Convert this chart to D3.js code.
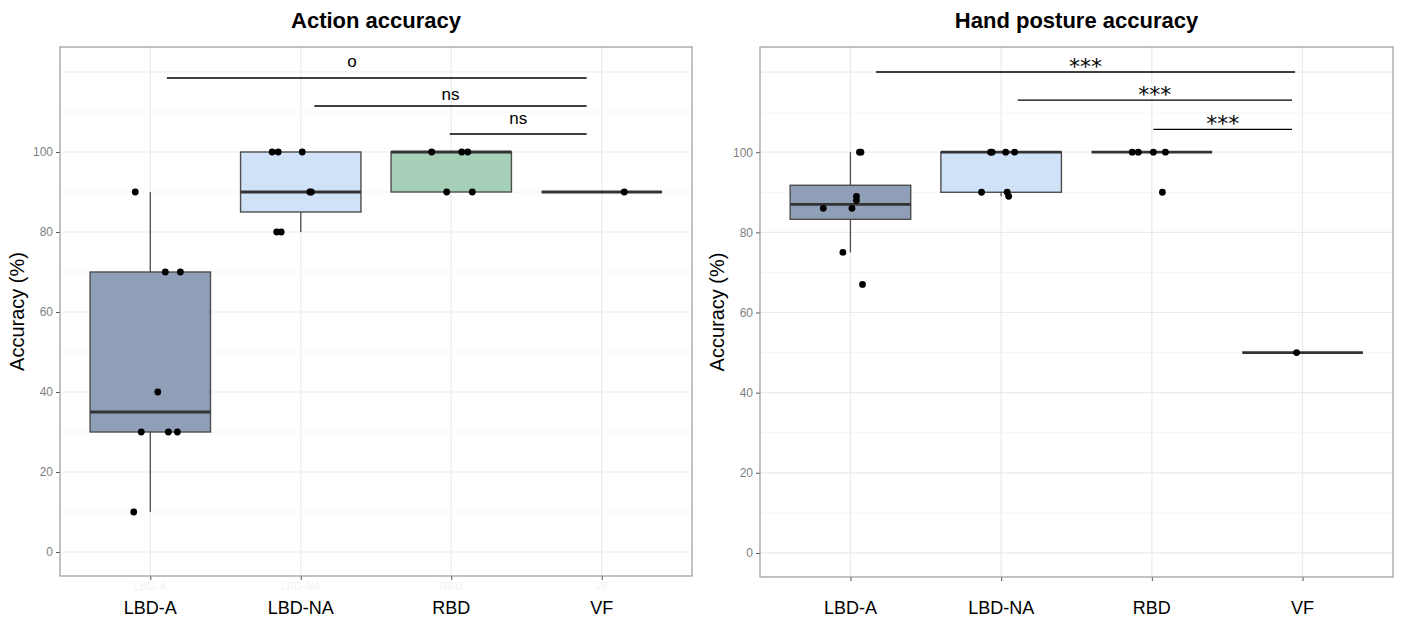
<!DOCTYPE html>
<meta charset="utf-8">
<style>
body { margin: 0; background: #fff; font-family: "Liberation Sans", Arial, Helvetica, sans-serif; }
.tick-label { fill: #7f7f7f; font-size: 12px; }
.title { font-size: 22px; font-weight: 700; fill: #000; }
.ylab { font-size: 20px; fill: #000; }
.xlab { font-size: 18px; fill: #000; }
</style>
<svg id="chart"></svg>
<script src="https://d3js.org/d3.v7.min.js"></script>
<script>

const groups = ["LBD-A", "LBD-NA", "RBD", "VF"];
const yTicks = [0, 20, 40, 60, 80, 100];
const gridVals = [0, 10, 20, 30, 40, 50, 60, 70, 80, 90, 100, 110, 120];
const fills = ["#8e9fb7", "#cfe2f8", "#a5cfb6", "#ffffff"];

// Action accuracy: values per group + jitter (in category steps)
const actionLBDA = [90, 70, 70, 40, 30, 30, 30, 10];
const actionLBDAJit = [-0.10, 0.10, 0.20, 0.05, -0.06, 0.12, 0.18, -0.11];
const actionLBDNA = [100, 100, 100, 90, 90, 80, 80];
const actionLBDNAJit = [-0.19, -0.15, 0.01, 0.07, 0.06, -0.16, -0.13];
const actionRBD = [100, 100, 100, 90, 90];
const actionRBDJit = [-0.13, 0.07, 0.11, -0.03, 0.14];
const actionVF = [90];
const actionVFJit = [0.15];

// Hand posture accuracy
const handLBDA = [100, 100, 89, 88, 86, 86, 75, 67];
const handLBDAJit = [0.06, 0.07, 0.04, 0.04, -0.18, 0.01, -0.05, 0.08];
const handLBDNA = [100, 100, 100, 100, 90, 90, 89];
const handLBDNAJit = [-0.07, -0.06, 0.03, 0.09, -0.13, 0.04, 0.05];
const handRBD = [100, 100, 100, 100, 90];
const handRBDJit = [-0.13, -0.09, 0.01, 0.09, 0.07];
const handVF = [50];
const handVFJit = [-0.04];

// significance brackets: from/to in category index units, y in data units
const actionSig = [
  {from: 0.11, to: 2.90, y: 118.5, label: "o", lx: 1.34, ly: 121.3},
  {from: 1.09, to: 2.90, y: 111.5, label: "ns", lx: 1.995, ly: 113},
  {from: 1.99, to: 2.90, y: 104.5, label: "ns", lx: 2.445, ly: 107}
];
const handSig = [
  {from: 0.17, to: 2.95, y: 120, label: "***", lx: 1.56, ly: 119.6},
  {from: 1.11, to: 2.93, y: 113, label: "***", lx: 2.02, ly: 112.6},
  {from: 2.01, to: 2.93, y: 105.7, label: "***", lx: 2.47, ly: 105.4}
];

const svg = d3.select("#chart").attr("width", 1404).attr("height", 624);

function boxStats(vals) {
  const s = vals.slice().sort(d3.ascending);
  const q1 = d3.quantile(s, 0.25), med = d3.quantile(s, 0.5), q3 = d3.quantile(s, 0.75);
  const iqr = q3 - q1;
  const lo = d3.min(s.filter(v => v >= q1 - 1.5 * iqr));
  const hi = d3.max(s.filter(v => v <= q3 + 1.5 * iqr));
  return {q1, med, q3, lo, hi};
}

function drawPanel(p) {
  const g = svg.append("g");
  const x = d3.scalePoint().domain(groups).range([p.x0, p.x1]).padding(0.6);
  const step = x.step();
  const y = d3.scaleLinear().domain([-6, 126.25]).range([p.y1, p.y0]);
  const xi = v => x(groups[0]) + v * step;

  // grid
  g.selectAll(".gy").data(gridVals).join("line")
    .attr("x1", p.x0).attr("x2", p.x1)
    .attr("y1", d => y(d)).attr("y2", d => y(d))
    .attr("stroke", d => d % 20 === 0 ? "#ebebeb" : "#f2f2f2")
    .attr("stroke-width", d => d % 20 === 0 ? 1.2 : 0.8);
  g.selectAll(".gx").data(groups).join("line")
    .attr("x1", d => x(d)).attr("x2", d => x(d))
    .attr("y1", p.y0).attr("y2", p.y1)
    .attr("stroke", "#ebebeb").attr("stroke-width", 1.2);

  // y axis ticks
  const yAxis = g.append("g").attr("transform", "translate(" + p.x0 + ",0)")
    .call(d3.axisLeft(y).tickValues(yTicks).tickSize(4).tickPadding(3));
  yAxis.select(".domain").remove();
  yAxis.selectAll("line").attr("stroke", "#555");
  yAxis.selectAll("text").attr("class", "tick-label").attr("font-family", null).attr("font-size", null);

  const xAxis = g.append("g").attr("transform", "translate(0," + p.y1 + ")")
    .call(d3.axisBottom(x).tickSize(4).tickFormat(""));
  xAxis.select(".domain").remove();
  xAxis.selectAll("line").attr("stroke", "#555");

  // boxes
  p.series.forEach((vals, i) => {
    const st = boxStats(vals);
    const cx = x(groups[i]), w = step * 0.8;
    g.append("line").attr("x1", cx).attr("x2", cx)
      .attr("y1", y(st.q3)).attr("y2", y(st.hi)).attr("stroke", "#4d4d4d").attr("stroke-width", 1.3);
    g.append("line").attr("x1", cx).attr("x2", cx)
      .attr("y1", y(st.q1)).attr("y2", y(st.lo)).attr("stroke", "#4d4d4d").attr("stroke-width", 1.3);
    g.append("rect").attr("x", cx - w / 2).attr("width", w)
      .attr("y", y(st.q3)).attr("height", Math.max(0, y(st.q1) - y(st.q3)))
      .attr("fill", fills[i]).attr("stroke", "#4d4d4d").attr("stroke-width", 1.4);
    g.append("line").attr("x1", cx - w / 2).attr("x2", cx + w / 2)
      .attr("y1", y(st.med)).attr("y2", y(st.med))
      .attr("stroke", "#333").attr("stroke-width", 2.8);
  });

  // points
  p.series.forEach((vals, i) => {
    g.selectAll(null).data(vals).join("circle")
      .attr("cx", (d, j) => x(groups[i]) + p.jitter[i][j] * step)
      .attr("cy", d => y(d))
      .attr("r", 3.4).attr("fill", "#000");
  });

  // panel border
  g.append("rect").attr("x", p.x0).attr("y", p.y0)
    .attr("width", p.x1 - p.x0).attr("height", p.y1 - p.y0)
    .attr("fill", "none").attr("stroke", "#999").attr("stroke-width", 1.2);

  // significance
  p.sig.forEach(s => {
    g.append("line").attr("x1", xi(s.from)).attr("x2", xi(s.to))
      .attr("y1", y(s.y)).attr("y2", y(s.y)).attr("stroke", "#000").attr("stroke-width", 1.4);
    g.append("text").attr("x", xi(s.lx)).attr("y", y(s.ly))
      .attr("text-anchor", "middle")
      .attr("font-family", s.label === "***" ? "DejaVu Sans" : null)
      .attr("font-size", s.label === "***" ? 22 : 17)
      .text(s.label);
  });

  // faint leftover tick labels
  if (p.faint) {
    g.selectAll(".fl").data(groups).join("text")
      .attr("x", d => x(d)).attr("y", p.y1 + 14)
      .attr("text-anchor", "middle").attr("font-size", 11).attr("fill", "#f3f3f3")
      .text(d => d);
  }

  // x labels
  g.selectAll(".xl").data(groups).join("text").attr("class", "xlab")
    .attr("x", d => x(d)).attr("y", 614).attr("text-anchor", "middle").text(d => d);

  g.append("text").attr("class", "title")
    .attr("x", (p.x0 + p.x1) / 2).attr("y", 28).attr("text-anchor", "middle").text(p.title);

  g.append("text").attr("class", "ylab")
    .attr("transform", "translate(" + (p.x0 - 36) + "," + ((p.y0 + p.y1) / 2) + ") rotate(-90)")
    .attr("text-anchor", "middle").text("Accuracy (%)");
}

drawPanel({
  x0: 60, x1: 692, y0: 47, y1: 576, title: "Action accuracy", faint: true,
  series: [actionLBDA, actionLBDNA, actionRBD, actionVF],
  jitter: [actionLBDAJit, actionLBDNAJit, actionRBDJit, actionVFJit],
  sig: actionSig
});

drawPanel({
  x0: 760, x1: 1393, y0: 47, y1: 577, title: "Hand posture accuracy", faint: false,
  series: [handLBDA, handLBDNA, handRBD, handVF],
  jitter: [handLBDAJit, handLBDNAJit, handRBDJit, handVFJit],
  sig: handSig
});

</script>
